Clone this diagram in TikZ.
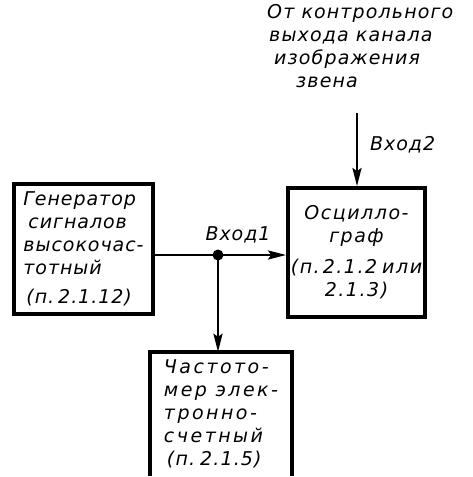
\documentclass[tikz,border=0pt]{standalone}
\usepackage{fontspec}
\setmainfont{DejaVu Sans}[ItalicFont={DejaVu Sans Oblique}]
\usetikzlibrary{arrows.meta}
\tikzset{
  ls/.style={font=\itshape\fontsize{19}{23}\selectfont\addfontfeature{LetterSpace=#1}},
  blockbox/.style={draw, line width=3.8pt},
  conn/.style={line width=2.6pt},
  arr/.style={conn, -{Stealth[length=18pt,width=9pt,inset=3pt]}},
}
\begin{document}
\begin{tikzpicture}[x=1pt,y=-1pt]
\useasboundingbox (0,0) rectangle (472,477);
% text at top
\node[ls=6, anchor=north west, align=left, inner sep=0pt] (src) at (267,4)
  {От контрольного\\\hspace{2pt}выхода канала\\\hspace{7pt}изображения\\\hspace{29pt}звена};
% blocks
\node[blockbox, ls=5, minimum width=139pt, minimum height=130pt, inner sep=0pt, align=left] (gen) at (83.5,249)
  {Генератор\\\hspace{5pt}сигналов\\высокочас-\\тотный\\[6pt]\hspace{3pt}(п.\hspace{4pt}2.1.12)};
\node[blockbox, ls=8, minimum width=137pt, minimum height=129pt, inner sep=0pt, align=center] (osc) at (356.5,252.5)
  {Осцилло-\\граф\\[8pt](п.\hspace{3pt}2.1.2\hspace{5pt}или\\2.1.3)};
\node[ls=13, minimum width=142pt, minimum height=124pt, inner sep=0pt, align=left] (frq) at (221,414)
  {Частото-\\мер элек-\\тронно-\\счетный\\\hspace{3pt}{\addfontfeature{LetterSpace=6}(п.\hspace{5pt}2.1.5)}};
\draw[line width=3.8pt] (frq.south west) -- (frq.north west) -- (frq.north east) -- (frq.south east);
% junction
\coordinate (j) at (218,255);
\coordinate (top) at (357,113);
\draw[conn] (gen.east |- j) -- (j);
\draw[arr] (j) -- (osc.west |- j);
\draw[arr] (j) -- (frq.north -| j);
\draw[arr] (top) -- (osc.north -| top);
\fill (j) circle (5.5pt);
\node[ls=5, anchor=south, inner sep=0pt] (in1) at (238,243) {Вход1};
\node[ls=5, anchor=west, inner sep=0pt] (in2) at (370,145) {Вход2};
\end{tikzpicture}
\end{document}
